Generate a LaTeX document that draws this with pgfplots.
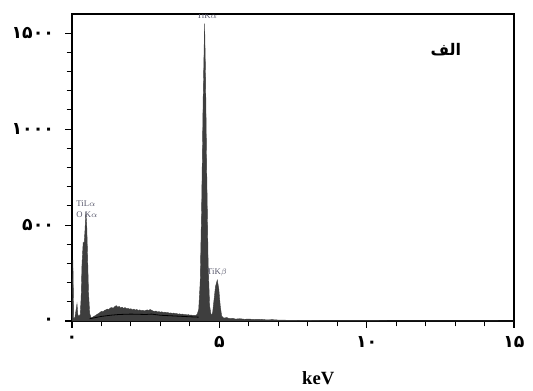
\documentclass[border=0pt]{standalone}
\usepackage{fontspec}
\setmainfont{Liberation Serif}
\newfontfamily\fa[Script=Arabic]{DejaVu Sans}
\usepackage{pgfplots}
\pgfplotsset{compat=1.18}
\usetikzlibrary{calc}
\TeXXeTstate=1
\definecolor{spec}{RGB}{62,62,62}
\definecolor{lbl}{RGB}{85,85,105}
\begin{document}
\begin{tikzpicture}
\begin{axis}[name=ax, scale only axis, width=331.5pt, height=230.25pt,
 xmin=0, xmax=15, ymin=0, ymax=1600,
 xtick={0,5,10,15}, xticklabels={۰,۵,۱۰,۱۵},
 ytick={0,500,1000,1500}, yticklabels={۰,۵۰۰,۱۰۰۰,۱۵۰۰},
 minor xtick={1,2,3,4,6,7,8,9,11,12,13,14},
 minor ytick={100,200,300,400,600,700,800,900,1100,1200,1300,1400},
 tick align=outside, tick pos=left,
 axis line style={line width=1.4pt},
 major tick length=5pt, minor tick length=4pt,
 tick style={black, line width=0.8pt},
 ticklabel style={font=\fa\bfseries\fontsize{13}{15}\selectfont},
 xticklabel style={yshift=-3pt},
 yticklabel style={xshift=-5pt},
 xlabel={keV},
 xlabel style={font=\bfseries\fontsize{14}{16}\selectfont, at={(axis description cs:0.557,0)}, anchor=center, yshift=-42.75pt},
]
\addplot[fill=spec, draw=spec, line width=0.3pt] coordinates {
(0,0)(0.01,0)(0.03,318)(0.06,10)(0.1,20)(0.14,60)(0.17,90)(0.2,30)(0.24,25)(0.28,35)(0.31,120)(0.34,300)(0.38,410)(0.41,400)(0.44,470)(0.47,568)(0.5,500)(0.53,330)(0.56,150)(0.6,40)(0.65,15)(0.7,20)(0.75,25)(0.8,28)(0.85,35)(0.9,38)(0.95,45)(1.0,50)(1.05,48)(1.1,55)(1.15,58)(1.2,62)(1.25,60)(1.3,68)(1.35,70)(1.4,66)(1.45,75)(1.5,80)(1.55,72)(1.6,76)(1.65,68)(1.7,72)(1.75,66)(1.8,70)(1.85,64)(1.9,66)(1.95,62)(2.0,64)(2.05,58)(2.1,62)(2.15,57)(2.2,60)(2.25,55)(2.3,58)(2.35,54)(2.4,56)(2.45,52)(2.5,55)(2.55,58)(2.6,54)(2.65,60)(2.7,56)(2.75,52)(2.8,50)(2.85,52)(2.9,47)(2.95,49)(3.0,46)(3.05,48)(3.1,44)(3.15,46)(3.2,43)(3.25,44)(3.3,41)(3.35,42)(3.4,40)(3.45,41)(3.5,38)(3.55,39)(3.6,36)(3.65,37)(3.7,35)(3.75,36)(3.8,33)(3.85,34)(3.9,32)(3.95,33)(4.0,30)(4.05,31)(4.1,29)(4.15,30)(4.2,28)(4.25,35)(4.3,60)(4.35,200)(4.4,600)(4.45,1150)(4.5,1550)(4.53,1300)(4.57,800)(4.62,300)(4.67,80)(4.72,30)(4.77,40)(4.82,110)(4.87,180)(4.93,214)(4.98,170)(5.03,80)(5.08,25)(5.15,15)(5.25,18)(5.35,12)(5.45,14)(5.55,10)(5.7,12)(5.85,9)(6.0,10)(6.2,8)(6.4,9)(6.6,6)(6.8,7)(7.0,5)(7.3,4)(7.6,4)(8,3)(9,2)(10,2)(11,1)(13,1)(15,0)
} \closedcycle;
\addplot[black, line width=0.6pt] coordinates {
(0.6,12)(0.8,18)(1.0,24)(1.3,30)(1.6,34)(2.0,36)(2.5,34)(2.7,36)(3.0,30)(3.5,26)(4.0,22)(4.3,20)
};
\node[font=\fontsize{6.5}{7.5}\selectfont, text=lbl, inner sep=0pt] at (axis cs:4.58,1590) {TiK$\alpha$};
\node[font=\fontsize{6.5}{7.5}\selectfont, text=lbl, inner sep=0pt, anchor=west] at (axis cs:0.14,610) {TiL$\alpha$};
\node[font=\fontsize{6.5}{7.5}\selectfont, text=lbl, inner sep=0pt, anchor=west] at (axis cs:0.14,552) {O K$\alpha$};
\node[font=\fontsize{6.5}{7.5}\selectfont, text=lbl, inner sep=0pt, anchor=west] at (axis cs:4.58,255) {TiK$\beta$};
\node[font=\fa\bfseries\fontsize{12}{14}\selectfont] at (axis cs:12.69,1412) {\beginR الف\endR};
\end{axis}
\pgfresetboundingbox
\path ($(ax.south west)+(-54pt,-51.75pt)$) rectangle ($(ax.north east)+(14.25pt,10.5pt)$);
\end{tikzpicture}
\end{document}
